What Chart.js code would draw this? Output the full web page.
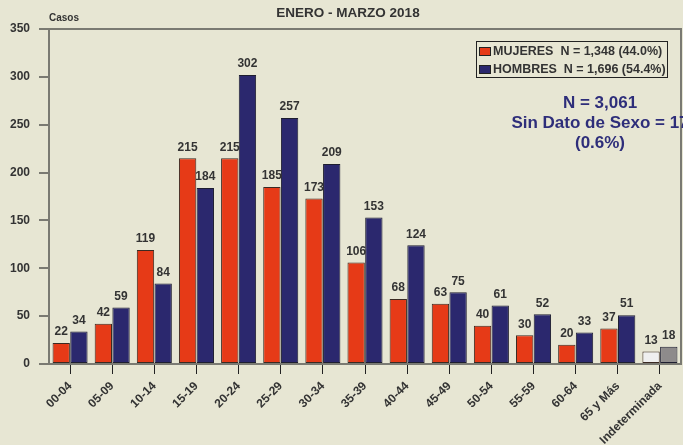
<!DOCTYPE html>
<html>
<head>
<meta charset="utf-8">
<script src="https://cdn.jsdelivr.net/npm/chart.js@4"></script>
<style>
  html, body { margin: 0; padding: 0; background: #e7e6d3; }
  #wrap { width: 683px; height: 445px; position: relative; }
</style>
</head>
<body>
<div id="wrap"><canvas id="chart" width="683" height="445"></canvas></div>
<script>
// data
const grupos = ['00-04', '05-09', '10-14', '15-19', '20-24', '25-29', '30-34', '35-39',
                '40-44', '45-49', '50-54', '55-59', '60-64', '65 y Más', 'Indeterminada'];
const mujeres = [22, 42, 119, 215, 215, 185, 173, 106, 68, 63, 40, 30, 20, 37, 13];
const hombres = [34, 59, 84, 184, 302, 257, 209, 153, 124, 75, 61, 52, 33, 51, 18];
const yTicks = [0, 50, 100, 150, 200, 250, 300, 350];
const leyenda = ['MUJERES  N = 1,348 (44.0%)', 'HOMBRES  N = 1,696 (54.4%)'];
const notas = ['N = 3,061', 'Sin Dato de Sexo = 17', '(0.6%)'];

const FONT = '"Liberation Sans", Arial, sans-serif';
const RED = '#e63a17';
const NAVY = '#2b286e';
const TEXT = '#333333';
const AXIS = '#7a7a72';

// last group (Indeterminada) is grey / white in the original
const redFill = mujeres.map((v, i) => i === mujeres.length - 1 ? '#efefef' : RED);
const navyFill = hombres.map((v, i) => i === hombres.length - 1 ? '#8e8b8b' : NAVY);

const decor = {
    id: 'decor',
    afterDatasetsDraw(chart) {
        const { ctx, chartArea: a } = chart;
        ctx.save();

        // frame on top and right
        ctx.strokeStyle = AXIS;
        ctx.lineWidth = 2;
        ctx.beginPath();
        ctx.moveTo(a.left, a.top);
        ctx.lineTo(a.right, a.top);
        ctx.lineTo(a.right, a.bottom);
        ctx.stroke();

        // value labels above bars
        ctx.fillStyle = TEXT;
        ctx.font = 'bold 12px ' + FONT;
        ctx.textAlign = 'center';
        ctx.textBaseline = 'bottom';
        chart.data.datasets.forEach((ds, di) => {
            chart.getDatasetMeta(di).data.forEach((bar, i) => {
                ctx.fillText(ds.data[i], bar.x, bar.y - 5);
            });
        });

        // title and axis name
        ctx.font = 'bold 13.5px ' + FONT;
        ctx.textBaseline = 'middle';
        ctx.fillText('ENERO - MARZO 2018', 348, 13);
        ctx.font = 'bold 10px ' + FONT;
        ctx.textAlign = 'left';
        ctx.fillText('Casos', 49, 18);

        // legend box
        ctx.lineWidth = 1;
        ctx.strokeStyle = '#222';
        ctx.strokeRect(476.5, 41.5, 191, 36);
        ctx.font = 'bold 12.5px ' + FONT;
        chart.data.datasets.forEach((ds, di) => {
            const y = 52 + di * 18;
            ctx.fillStyle = di === 0 ? RED : NAVY;
            ctx.fillRect(479.5, y - 4.5, 11, 8);
            ctx.strokeRect(479.5, y - 4.5, 11, 8);
            ctx.fillStyle = TEXT;
            ctx.fillText(ds.label, 493, y);
        });

        // totals note
        ctx.fillStyle = '#2e2e7a';
        ctx.font = 'bold 17px ' + FONT;
        ctx.textAlign = 'center';
        notas.forEach((t, i) => ctx.fillText(t, 600, 103 + i * 20));

        ctx.restore();
    }
};

new Chart(document.getElementById('chart'), {
    type: 'bar',
    data: {
        labels: grupos,
        datasets: [
            { label: leyenda[0], data: mujeres, backgroundColor: redFill,
              borderColor: '#3a2a22', borderWidth: 1, borderSkipped: false },
            { label: leyenda[1], data: hombres, backgroundColor: navyFill,
              borderColor: '#1e1e30', borderWidth: 1, borderSkipped: false }
        ]
    },
    options: {
        responsive: false,
        animation: false,
        layout: { padding: { left: 0, top: 29, right: 2, bottom: 0 } },
        datasets: { bar: { categoryPercentage: 0.84, barPercentage: 0.98 } },
        plugins: {
            legend: { display: false },
            title: { display: false },
            tooltip: { enabled: false }
        },
        scales: {
            x: {
                grid: { offset: false, drawOnChartArea: false, drawTicks: true,
                        tickLength: 10, color: '#222', lineWidth: 1 },
                border: { color: AXIS, width: 2 },
                ticks: { color: TEXT, font: { family: FONT, size: 12, weight: 'bold' },
                         minRotation: 45, maxRotation: 45, autoSkip: false, padding: 5 },
                afterFit: s => { s.height = 81; }
            },
            y: {
                min: 0,
                max: 350,
                afterBuildTicks: s => { s.ticks = yTicks.map(v => ({ value: v })); },
                grid: { drawOnChartArea: false, drawTicks: true, tickLength: 10,
                        color: AXIS, lineWidth: 2 },
                border: { color: AXIS, width: 2 },
                ticks: { color: TEXT, padding: 9,
                         font: { family: FONT, size: 12, weight: 'bold' } },
                afterFit: s => { s.width = 49; }
            }
        }
    },
    plugins: [decor]
});
</script>
</body>
</html>
